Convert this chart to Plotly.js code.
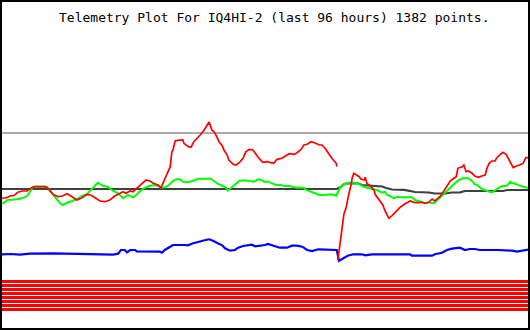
<!DOCTYPE html>
<html>
<head>
<meta charset="utf-8">
<script src="https://cdn.plot.ly/plotly-3.0.1.min.js"></script>
<style>
html,body{margin:0;padding:0;background:#fff;}
#chart{width:530px;height:330px;}
</style>
</head>
<body>
<div id="chart"></div>
<script>
// ---- Data (x = hours into the 96 h window, y = telemetry value) ----
const titleText = "Telemetry Plot For IQ4HI-2 (last 96 hours) 1382 points.";

const redHours = [0,0.7,1.5,2.2,2.9,3.7,4.6,5.3,6.0,6.9,7.9,8.4,8.8,9.3,10.2,11.0,11.9,12.8,13.7,14.6,15.5,16.2,17.0,17.9,18.8,19.7,20.6,21.5,22.1,22.6,23.4,23.9,24.8,25.4,26.3,27.0,27.6,28.5,29.0,29.4,29.9,30.3,30.7,31.0,31.2,31.6,32.1,33.0,33.2,34.0,34.5,35.0,35.8,36.3,36.9,37.4,37.8,38.3,38.7,39.1,39.6,40.2,40.5,41.1,41.4,42.2,42.7,43.3,44.0,44.5,45.1,45.8,46.4,46.9,47.6,48.4,49.1,49.6,50.2,51.1,51.8,52.4,53.3,53.8,54.6,55.1,55.7,56.4,57.3,57.9,58.4,59.1,59.7,60.2,61.0,61.1,61.2,61.3,61.7,62.1,62.4,62.8,63.0,63.3,63.7,63.9,64.2,64.6,65.2,65.5,66.1,66.3,66.6,67.2,67.9,68.1,68.6,69.0,69.5,69.9,70.3,70.6,71.2,71.7,72.1,72.6,73.4,73.9,74.5,75.2,75.7,76.7,77.2,77.9,78.5,79.0,79.6,79.9,80.5,81.2,81.8,82.3,82.9,83.2,84.0,84.3,84.7,85.1,85.8,86.3,86.9,87.6,88.2,88.5,88.9,89.4,90.0,90.3,90.9,91.4,92.0,92.4,92.9,93.3,94.0,94.5,95.1,95.6,96.0];
const redValues = [130,130,132,132.5,135.7,137,137,140,141.3,141.3,141.3,139.5,137,133.7,131.3,132,134.3,131.3,128,130.3,133.7,133,130.3,127,126.3,128,132,134.7,136.3,134.7,137,136.3,141.3,143.7,148,147,144.7,143,140,144.7,151.3,156,161.3,176,178,187,187.7,188,184.7,181.3,180.7,186.3,190.3,193.7,198,202.3,206,198,196.3,192.3,186.3,182.3,178,173,168,163.7,163,165.3,169.7,176.3,178.7,178,173,169.7,165.7,166.3,165.3,164.7,168.7,169.7,172.3,174.3,173.7,175,178.7,183,183.7,186.3,184.7,183,183,178.7,173.7,169.7,164.7,161.3,null,68,83,98,113.7,120.3,127,134,143,149.7,154.7,153,151.3,149,148,150.7,144.7,142,138,133.7,129.7,125.7,123,117.3,113.7,109.7,112.3,115.3,118,120.3,123.7,125.3,127,125.7,125.3,125.7,124.7,125.7,129,127,129.7,131.3,135.7,141.3,147,149,151.3,159.7,161.3,163,156.3,157,154.7,152,150.7,152,153,159.7,164.7,167,167,170.3,173.7,175.7,173.7,169.7,164.7,160.3,162.3,163,164.7,170.3,170.3];

const greenHours = [0,0.5,1.1,2.0,2.7,3.7,4.6,5.1,5.7,6.9,8.2,8.8,9.7,10.6,11.1,11.9,12.8,13.7,14.6,15.5,16.2,17.0,17.5,18.4,19.3,20.3,21.2,22.1,23.0,23.9,24.5,25.2,26.1,27.0,27.9,28.8,29.4,30.3,31.2,31.8,32.5,33.0,33.9,34.9,35.8,37.0,38.1,38.7,39.4,40.3,40.9,41.2,41.8,42.5,43.3,44.2,45.1,46.0,46.7,47.3,47.8,48.7,49.3,50.0,50.9,51.5,52.4,53.3,53.8,55.1,55.5,56.4,57.3,57.9,58.8,59.7,60.2,61.0,61.7,62.1,62.8,63.3,63.9,64.4,65.2,65.7,66.6,67.5,68.4,69.4,69.9,70.3,70.8,71.5,72.1,72.6,73.7,74.8,75.4,76.1,76.7,77.2,77.9,78.5,79.0,79.8,80.5,81.4,82.3,83.2,84.1,85.1,85.8,86.3,86.9,87.6,88.5,89.1,89.6,90.5,91.3,92.2,92.7,93.3,94.2,95.1,96.0];
const greenValues = [124,125.7,128.3,128.3,129,129.7,132,136.3,141.3,141.3,141.3,137,131.3,124.7,123,125.3,127,129,132,133.7,138,142.3,145.3,142.3,141.3,137,134.7,129.7,133,130.7,133,137,140.3,142.3,143,141.3,140.3,142,147,148.7,148.7,146.3,145.7,147.3,149.3,149.3,149.3,147,144,142,140.3,137.3,140.3,143,147,147.7,147.3,146.3,148.7,148,146.3,146.3,144.7,143,143,142,142,141,140.3,140.3,138,136.3,134.7,133,133,133,133.7,132.3,140.3,142.3,144.7,145.3,145.3,145.3,143.7,142,140.3,139,138,135.3,136.3,133,132,129.7,131.3,130.7,130.7,130.7,128,127,125.7,124.7,125.7,124.7,125.3,129.7,134,139,143,147.3,149.7,149.7,147,143.7,142.3,139,137,136,136,139.7,142,142.3,146.3,144.7,143,141.3,140.3];

const darkHours = [0,61.1,61.9,62.4,62.9,64.9,65.7,67.0,68.1,69.4,70.1,71.2,73.4,74.3,75.4,77.9,79.0,80.9,82.1,83.6,84.5,91.4,92.2,96.0];
const darkValues = [139,139,141.3,143.7,144.7,144.7,143,142.5,141.7,141.5,140,138.5,138.2,137,136,135.5,134.5,134.5,135.5,135.7,137,137,138,138];

const blueHours = [0,1.5,3.3,5.1,9.3,11.9,16.1,17.9,20.3,21.2,21.7,22.4,22.8,23.4,24.3,24.6,26.5,27.0,28.8,29.2,29.7,30.7,31.2,33.4,33.9,34.9,36.1,37.0,37.8,38.5,39.4,40.2,40.7,41.6,42.5,43.1,44.0,44.9,45.6,46.2,47.1,48.0,48.5,49.5,50.7,52.0,52.9,53.8,54.8,55.7,56.6,57.7,60.8,61.1,61.5,62.2,63.1,64.1,65.7,66.3,67.5,68.6,69.5,70.4,74.5,74.8,78.5,79.0,80.3,81.2,82.1,83.6,84.5,85.4,86.3,87.2,90.5,91.8,93.1,94.0,95.0,96.0];
const blueValues = [73.7,74,73.3,74.3,74.7,74.3,74.3,73.3,73.3,74.3,78,78,75.7,78,78,76.7,76.7,76.3,76.3,75.3,78,81.3,83,83,82.7,84.7,86,87.7,88.7,87.3,84.7,82.7,79.7,77.3,78,80.3,82,82.7,83.3,81.7,82.3,83,84,82.3,80.3,80.3,82.3,82.3,81.3,78,77,78.7,78.7,78,67.3,69.7,72.3,73.7,73.7,72.7,73.7,73.7,74,73.7,73.7,72.3,72.3,73.7,75.3,78,79.3,80.3,78,79,79,78,78,78,77.3,76.3,77.3,78.3];

const limitValue = 195;          // grey reference level
const bitValues = [1,1,1,1,1,1,1,1]; // digital channels B1..B8
const windowHours = [0, 96];

// ---- Build traces ----
const traces = [];
// digital bits as red stripes (bit k drawn in its own band)
const bitBase = 46.5, bitStep = 4;
bitValues.forEach((b, k) => {
  const lvl = bitBase - k * bitStep;
  traces.push({x: windowHours, y: windowHours.map(() => b ? lvl : null),
    mode: 'lines', line: {color: '#ff0000', width: 3}, hoverinfo: 'skip'});
});
traces.push({x: windowHours, y: windowHours.map(() => limitValue), mode: 'lines',
  line: {color: '#aaaaaa', width: 2}});
traces.push({x: darkHours, y: darkValues, mode: 'lines', line: {color: '#404040', width: 2.2}});
traces.push({x: blueHours, y: blueValues, mode: 'lines', line: {color: '#0000ff', width: 2.2}});
traces.push({x: greenHours, y: greenValues, mode: 'lines', line: {color: '#00ff00', width: 2}});
traces.push({x: redHours, y: redValues, mode: 'lines', connectgaps: false, line: {color: '#ff0000', width: 1.7}});

const axisCommon = {showgrid: false, zeroline: false, showticklabels: false, ticks: '',
  showline: true, mirror: true, linecolor: '#000', linewidth: 2, fixedrange: true};

const layout = {
  width: 530, height: 330,
  margin: {l: 2, r: 2, t: 2, b: 2, pad: 0},
  paper_bgcolor: '#fff', plot_bgcolor: '#fff',
  showlegend: false,
  title: {text: titleText, xref: 'container', yref: 'container', x: 59/530, xanchor: 'left',
    y: 1 - 17/330, yanchor: 'middle',
    font: {family: 'DejaVu Sans Mono, monospace', size: 13, color: '#000'}},
  xaxis: Object.assign({range: windowHours}, axisCommon),
  yaxis: Object.assign({range: [0, 326]}, axisCommon)
};

Plotly.newPlot('chart', traces, layout, {displayModeBar: false, staticPlot: true});
</script>
</body>
</html>
